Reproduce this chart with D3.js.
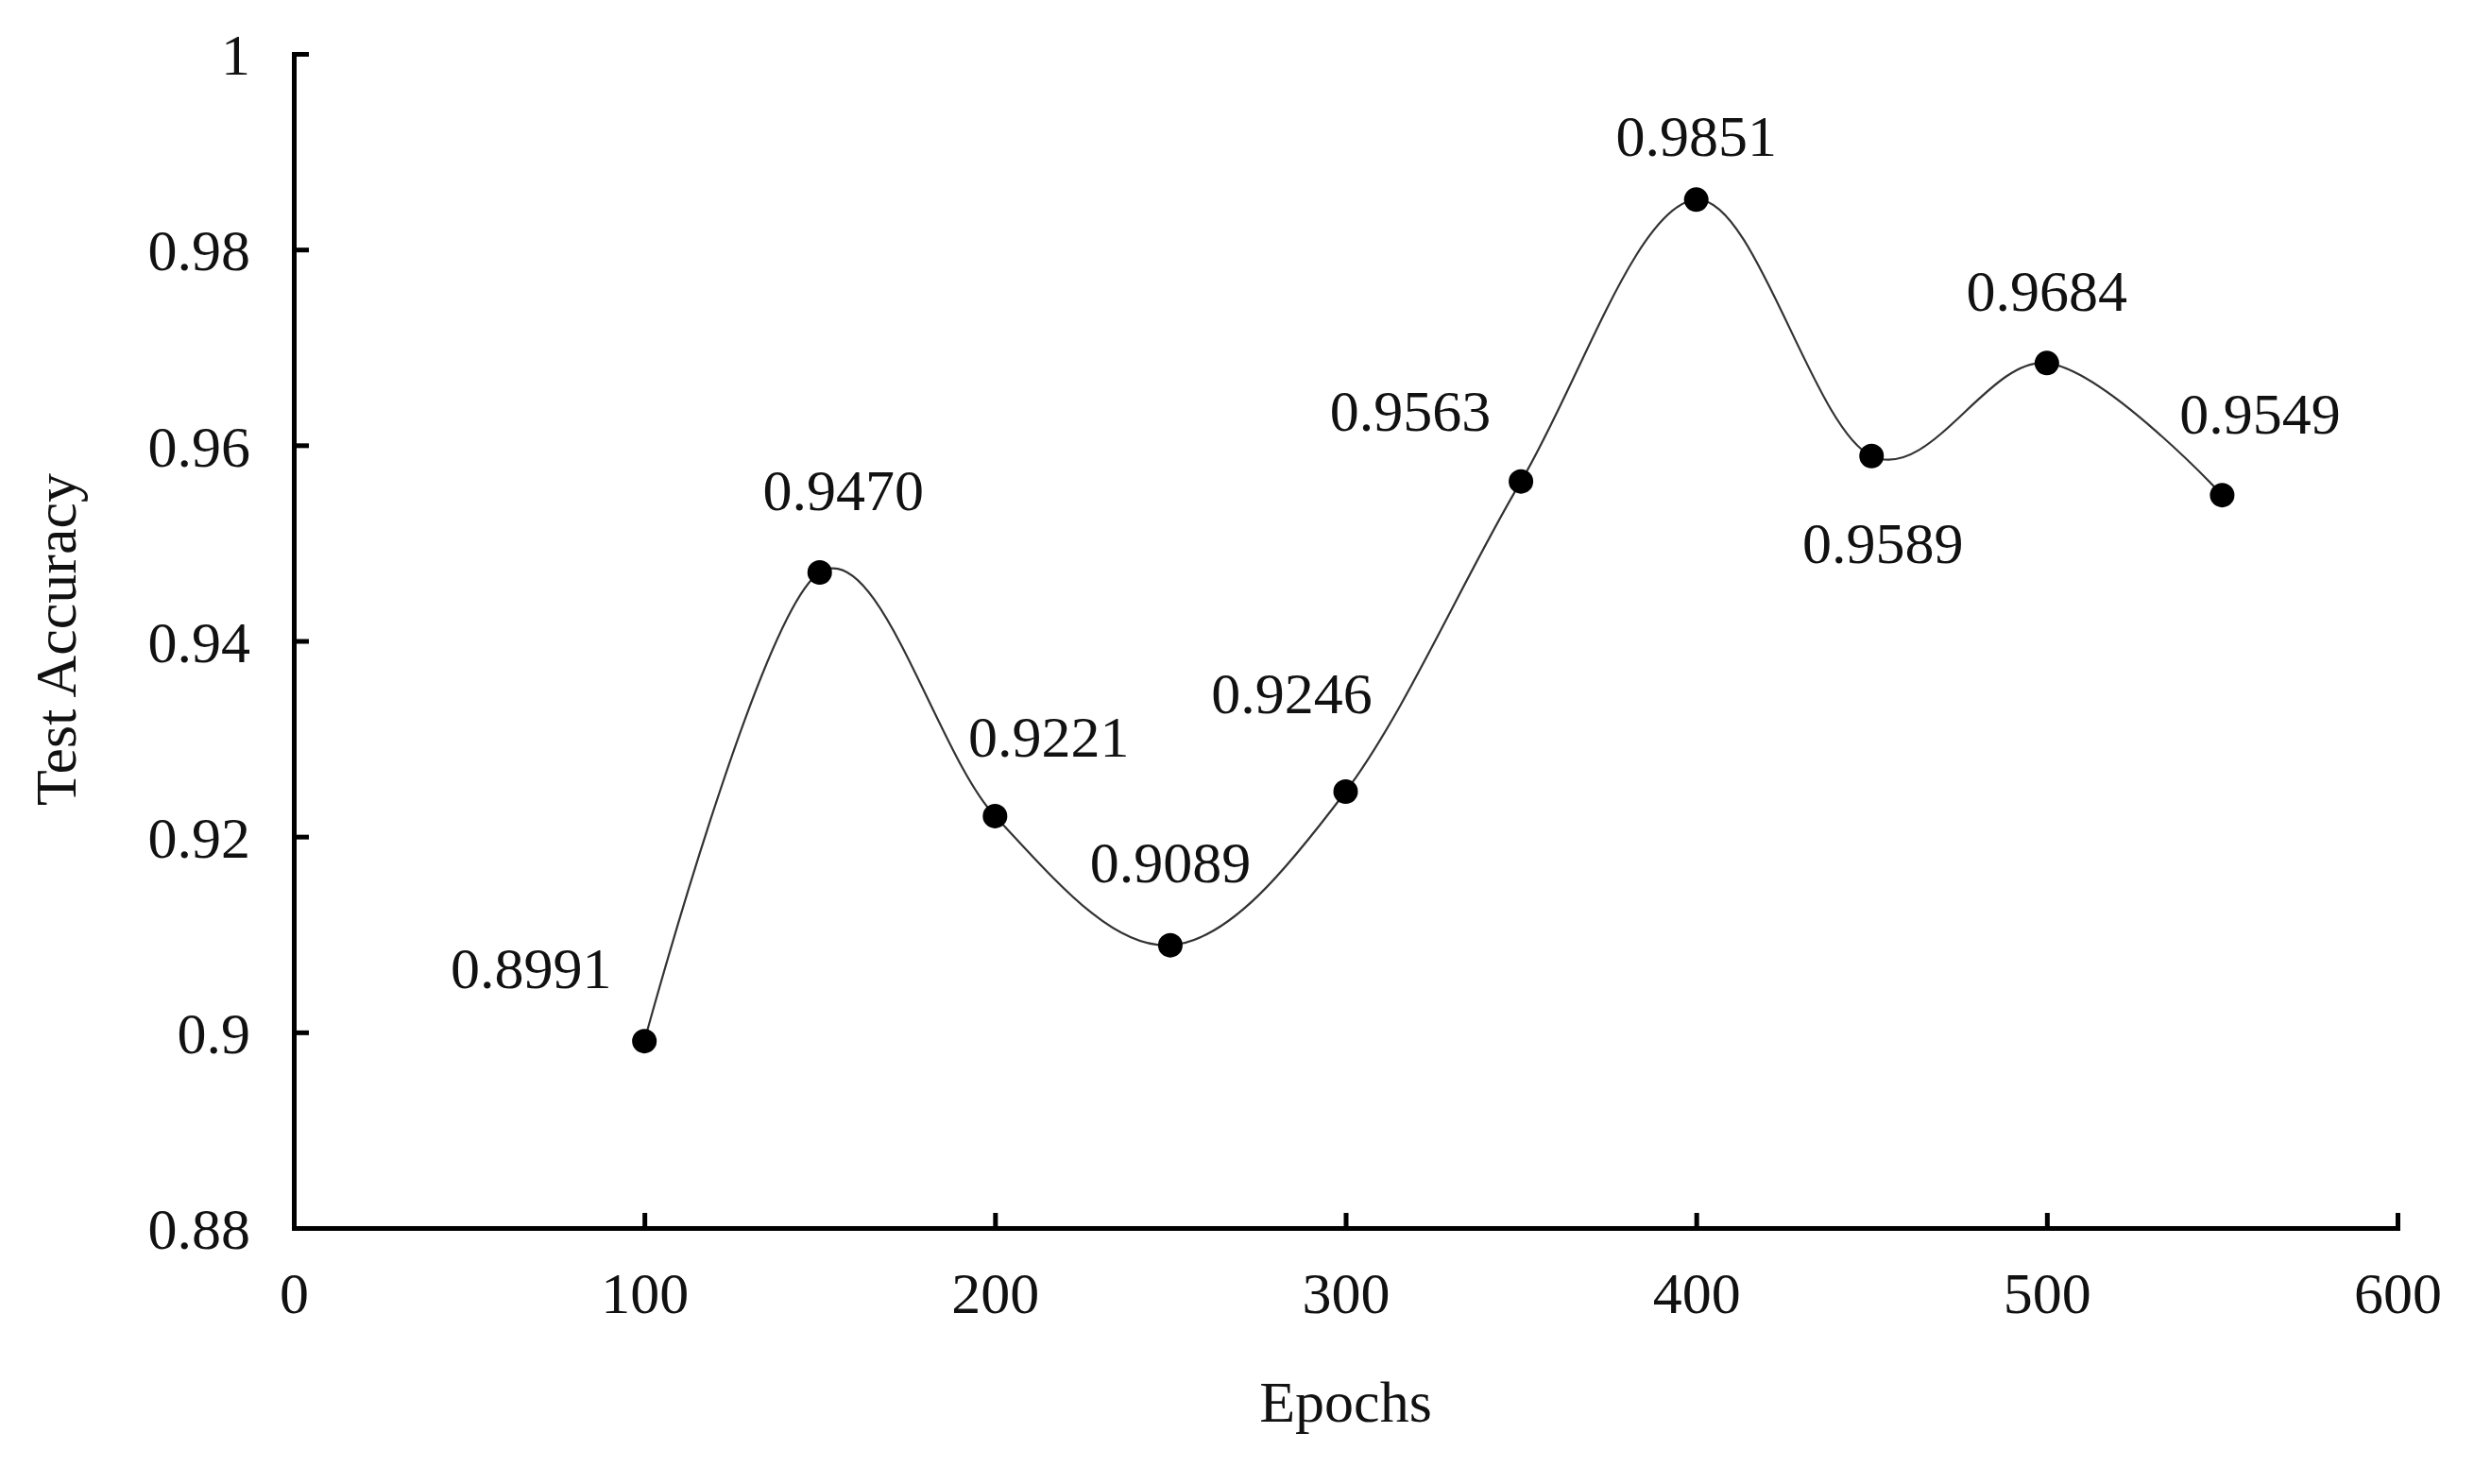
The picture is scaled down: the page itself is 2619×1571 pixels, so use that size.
<!DOCTYPE html>
<html><head><meta charset="utf-8">
<script src="https://cdn.jsdelivr.net/npm/d3@7"></script>
<style>body{margin:0;background:#fff}text{font-family:"Liberation Serif","Times New Roman",serif;fill:#111}</style>
</head><body><svg id="c" width="2619" height="1571"></svg>
<script>
const epochs = [100,150,200,250,300,350,400,450,500,550];
const accuracy = [0.8991,0.9470,0.9221,0.9089,0.9246,0.9563,0.9851,0.9589,0.9684,0.9549];
const labels = ["0.8991","0.9470","0.9221","0.9089","0.9246","0.9563","0.9851","0.9589","0.9684","0.9549"];
const labelOffset = [[-120,-78],[25,-88],[57,-85],[0,-88],[-57,-105],[-117,-75],[0,-68],[12,92],[0,-77],[40,-87]];
const xTicks = [0,100,200,300,400,500,600];
const yTicks = [0.88,0.9,0.92,0.94,0.96,0.98,1];

const svg = d3.select("#c");
const x = d3.scaleLinear().domain([0,600]).range([311,2538]);
const y = d3.scaleLinear().domain([0.88,1]).range([1300,57]);
const fs = 62;

const gx = svg.append("g").attr("transform","translate(0,1300)")
  .call(d3.axisBottom(x).tickValues(xTicks).tickSize(-16).tickPadding(46).tickFormat(d=>d));
const gy = svg.append("g").attr("transform","translate(311,0)")
  .call(d3.axisLeft(y).tickValues(yTicks).tickSize(-16).tickPadding(46).tickFormat(d=>String(d).replace(/^0\.(\d)$/,"0.$1")));
[gx,gy].forEach(g=>{
  g.selectAll("path,line").attr("stroke","#000").attr("stroke-width",5);
  g.selectAll("text").style("font-size",fs+"px").attr("font-family",null);
});
gy.selectAll(".tick text").attr("dy","0.35em");

const data = epochs.map((e,i)=>({e,a:accuracy[i],l:labels[i],o:labelOffset[i]}));
svg.append("path").datum(data)
  .attr("d", d3.line().x(d=>x(d.e)).y(d=>y(d.a)).curve(d3.curveCardinal.tension(0)))
  .attr("fill","none").attr("stroke","#333").attr("stroke-width",2.2);
svg.selectAll("circle.p").data(data).join("circle")
  .attr("cx",d=>x(d.e)).attr("cy",d=>y(d.a)).attr("r",13).attr("fill","#000");
svg.selectAll("text.l").data(data).join("text").attr("class","l")
  .attr("x",d=>x(d.e)+d.o[0]).attr("y",d=>y(d.a)+d.o[1]).attr("dy","0.35em")
  .attr("text-anchor","middle").style("font-size",fs+"px").text(d=>d.l);

svg.append("text").attr("x",x(300)).attr("y",1505).attr("text-anchor","middle")
  .style("font-size",fs+"px").text("Epochs");
svg.append("text").attr("transform","translate(58,677) rotate(-90)").attr("dy","0.35em")
  .attr("text-anchor","middle").style("font-size",fs+"px").text("Test Accuracy");
</script></body></html>
